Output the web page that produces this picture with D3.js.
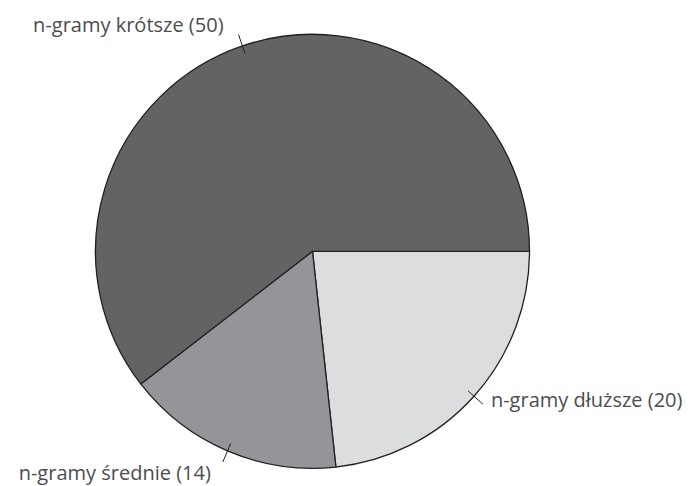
<!DOCTYPE html>
<html><head><meta charset="utf-8">
<script src="https://cdn.jsdelivr.net/npm/d3@7"></script>
<style>body{margin:0;background:#fff}svg{display:block}</style>
</head><body>
<script>
const categories = ["n-gramy dłuższe", "n-gramy średnie", "n-gramy krótsze"];
const values = [20, 14, 50];              // values shown in the labels
const sliceShares = [23.28, 16.25, 60.47]; // slice sizes (%)
const colors = ["#dcdddf", "#939598", "#636365"];
// label offsets relative to tick outer end (styling)
const labelDx = [8, -12, -15];
const labelDy = [2.5, 17.5, -2.5];
const anchors = ["start", "end", "end"];

const W = 696, H = 486, cx = 312.5, cy = 251.3, R = 217;
const svg = d3.select("body").append("svg").attr("width", W).attr("height", H);
const g = svg.append("g").attr("transform", `translate(${cx},${cy})`);
const data = categories.map((c, i) => ({c, v: values[i], s: sliceShares[i], i}));
const pie = d3.pie().value(d => d.s).sort(null).startAngle(Math.PI/2).endAngle(Math.PI/2 + 2*Math.PI);
const arcs = pie(data);
const arc = d3.arc().innerRadius(0).outerRadius(R);
g.selectAll("path.s").data(arcs).join("path").attr("class","s")
  .attr("d", arc).attr("fill", d => colors[d.data.i])
  .attr("stroke", "#231f20").attr("stroke-width", 1.3).attr("stroke-linejoin","round");
const pt = (a, r) => [Math.sin(a)*r, -Math.cos(a)*r];
arcs.forEach(d => {
  const m = (d.startAngle + d.endAngle)/2;
  const p1 = pt(m, R - 8), p2 = pt(m, R + 12);
  g.append("line").attr("x1", p1[0]).attr("y1", p1[1]).attr("x2", p2[0]).attr("y2", p2[1])
    .attr("stroke", "#231f20").attr("stroke-width", 1);
  const i = d.data.i;
  g.append("text").attr("x", p2[0] + labelDx[i]).attr("y", p2[1] + labelDy[i])
    .attr("text-anchor", anchors[i])
    .attr("font-family", "Open Sans, sans-serif").attr("font-size", 20)
    .attr("fill", "#4d4d4f")
    .text(`${d.data.c} (${d.data.v})`);
});
</script>
</body></html>
